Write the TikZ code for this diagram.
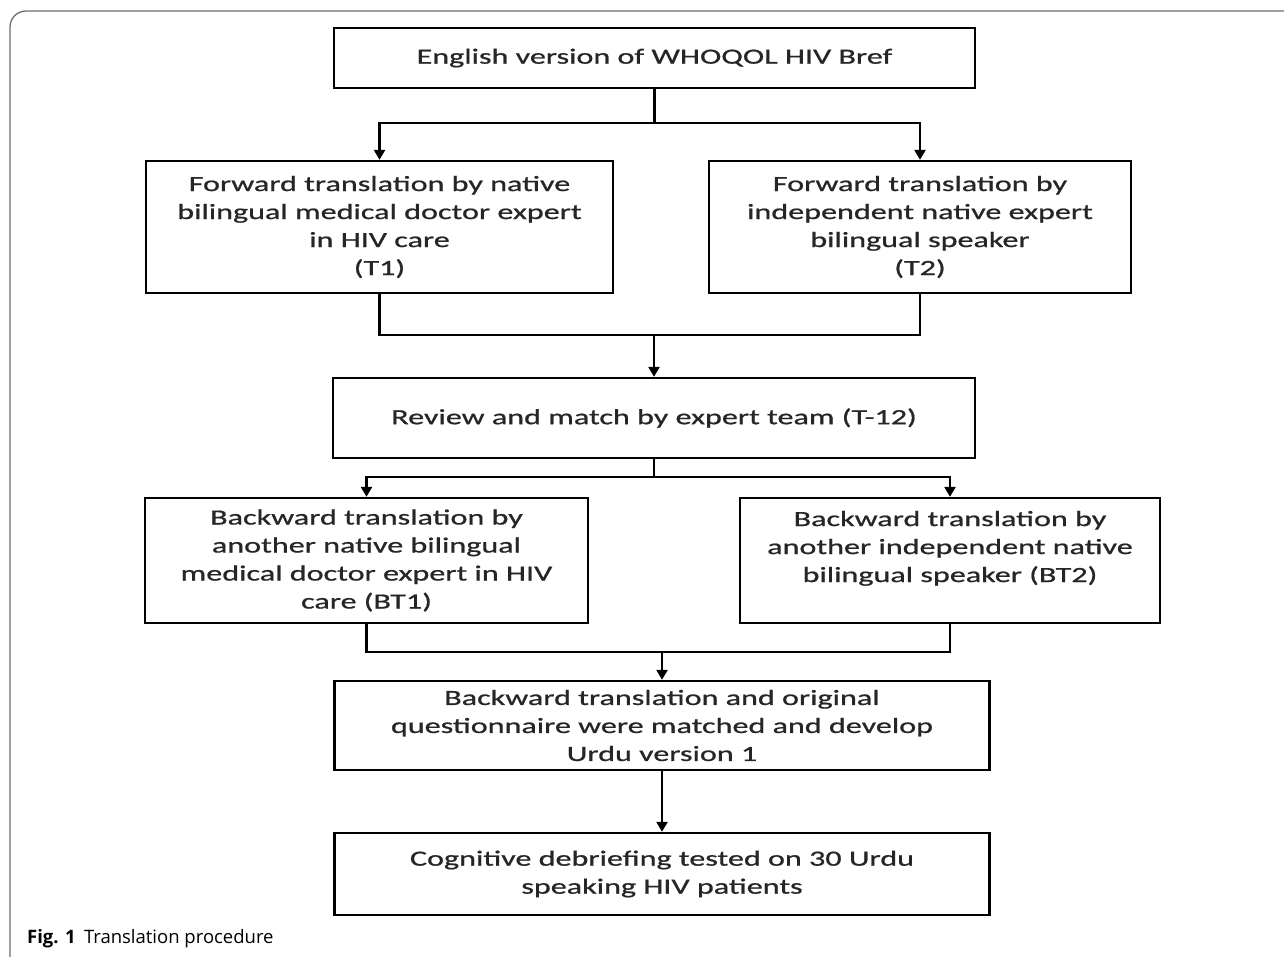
\documentclass[tikz,border=0pt]{standalone}
\usepackage{fontspec}
\setmainfont{Carlito}[FakeStretch=1.48,FakeBold=0.8]
\newfontfamily\capfont{Open Sans}
\usetikzlibrary{arrows.meta}
\definecolor{txt}{HTML}{262626}
\definecolor{frame}{HTML}{6E6E6E}
\begin{document}
\begin{tikzpicture}[x=1pt,y=-1pt,
  box/.style={draw, line width=2.4pt, align=center, inner sep=0pt,
    font=\fontsize{21.7}{28}\selectfont, text=txt},
  ln/.style={line width=2.4pt},
  arr/.style={line width=2.4pt, -{Triangle[width=11pt,length=10pt]}},
  framestyle/.style={draw=frame, line width=1.3pt, rounded corners=16pt},
  captext/.style={anchor=base west, inner sep=0pt, font=\capfont\fontsize{18.5}{22}\selectfont, text=black}]
\clip (0,0) rectangle (1284,956);
\fill[white] (0,0) rectangle (1284,956);
\draw[framestyle] (10,11) rectangle (1320,972);

\node[box, minimum width=641pt, minimum height=60pt] (b1) at (654.5,58) {English version of WHOQOL HIV Bref};
\node[box, minimum width=467pt, minimum height=132pt] (t1) at (379.5,227) {Forward translation by native\\bilingual medical doctor expert\\in HIV care\\(T1)};
\node[box, minimum width=422pt, minimum height=132pt] (t2) at (920,227) {Forward translation by\\independent native expert\\bilingual speaker\\(T2)};
\node[box, minimum width=642pt, minimum height=80pt] (rev) at (654,418) {Review and match by expert team (T-12)};
\node[box, minimum width=443pt, minimum height=125pt] (bt1) at (366.5,560.5) {Backward translation by\\another native bilingual\\medical doctor expert in HIV\\care (BT1)};
\node[box, minimum width=420pt, minimum height=125pt] (bt2) at (950,560.5) {Backward translation by\\another independent native\\bilingual speaker (BT2)\\\mbox{}};
\node[box, minimum width=655pt, minimum height=89pt] (fin) at (662,725.5) {Backward translation and original\\questionnaire were matched and develop\\Urdu version 1};
\node[box, minimum width=655pt, minimum height=82pt] (cog) at (662,874) {Cognitive debriefing tested on 30 Urdu\\speaking HIV patients};

\coordinate (s1) at (654.5,123);
\coordinate (j1) at (654,335);
\coordinate (s2) at (654,477);
\coordinate (j2) at (662,652);

\draw[ln] (b1.south) -- (s1);
\draw[arr] (s1) -| (t1.north);
\draw[arr] (s1) -| (t2.north);
\draw[ln] (t1.south) |- (j1) -| (t2.south);
\draw[arr] (j1) -- (j1 |- rev.north);
\draw[ln] (rev.south) -- (s2);
\draw[arr] (s2) -| (bt1.north);
\draw[arr] (s2) -| (bt2.north);
\draw[ln] (bt1.south) |- (j2) -| (bt2.south);
\draw[arr] (j2) -- (fin.north);
\draw[arr] (fin.south) -- (cog.north);

\node[captext] (cap) at (27,943) {\textbf{Fig. 1}\hspace{0.45em}Translation procedure};
\end{tikzpicture}
\end{document}
